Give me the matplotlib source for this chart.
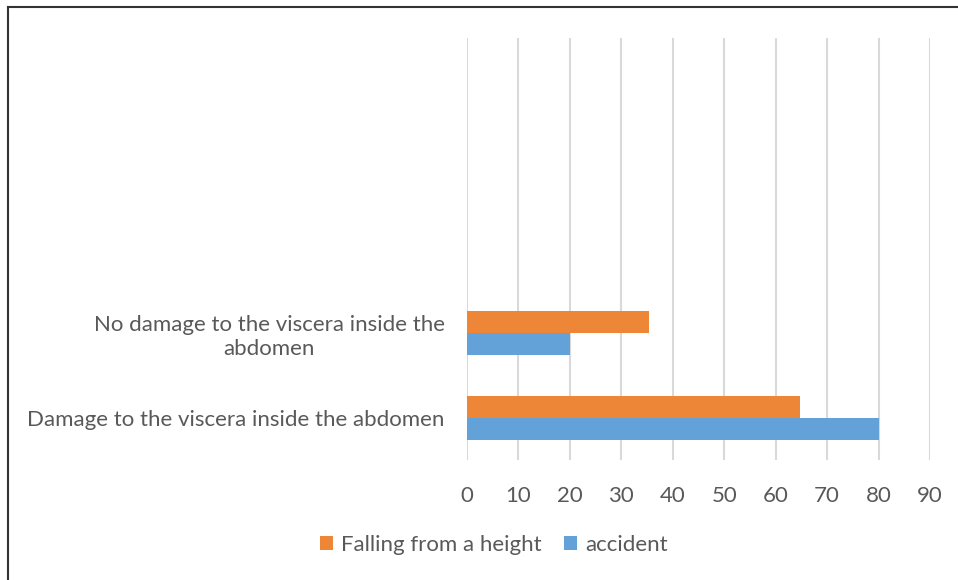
import matplotlib
matplotlib.use("Agg")
import matplotlib.pyplot as plt
from matplotlib.lines import Line2D
import numpy as np

plt.rcParams['font.family'] = ['Lato', 'DejaVu Sans']

categories = ["Damage to the viscera inside the abdomen",
              "No damage to the viscera inside the\nabdomen"]
falling = [64.7, 35.3]
accident = [80, 20]
xticks = [0, 10, 20, 30, 40, 50, 60, 70, 80, 90]

c_orange = "#ED8637"
c_blue = "#63A2D8"
grey = "#595959"
fs = 16

fig = plt.figure(figsize=(9.58, 5.80), dpi=100)
W, H = 958, 580
ax = fig.add_axes([467 / W, 1 - 460 / H, (930 - 467) / W, (460 - 38) / H])

y = np.arange(len(categories))
h = 0.26
ax.barh(y - h / 2, accident, height=h, color=c_blue, label="accident", zorder=3)
ax.barh(y + h / 2, falling, height=h, color=c_orange, label="Falling from a height", zorder=3)

ax.set_xlim(0, 90)
ax.set_ylim(-0.5, 4.5)
ax.set_xticks(xticks)
ax.set_xticklabels([str(v) for v in xticks])
ax.set_yticks(y)
ax.set_yticklabels(categories, multialignment='center')
ax.grid(axis='x', color='#D9D9D9', linewidth=1.5, zorder=0)
ax.grid(axis='y', visible=False)
for s in ax.spines.values():
    s.set_visible(False)
ax.tick_params(axis='x', length=0, pad=19, labelsize=fs, labelcolor=grey)
ax.tick_params(axis='y', length=0, pad=16, labelsize=fs, labelcolor=grey)

handles, labels = ax.get_legend_handles_labels()
leg = fig.legend(handles[::-1], labels[::-1], loc='center',
                 bbox_to_anchor=(494 / W, 1 - 545 / H), ncol=2, frameon=False,
                 fontsize=fs, handlelength=0.6, handleheight=0.6,
                 handletextpad=0.35, columnspacing=1.0)
for t in leg.get_texts():
    t.set_color(grey)

# outer frame (top and left)
fig.add_artist(Line2D([8 / W, 1], [1 - 6.5 / H, 1 - 6.5 / H], color='#333333', linewidth=1.5))
fig.add_artist(Line2D([8 / W, 8 / W], [0, 1 - 6.5 / H], color='#333333', linewidth=1.5))

fig.savefig("out.png", dpi=100, facecolor='white')
